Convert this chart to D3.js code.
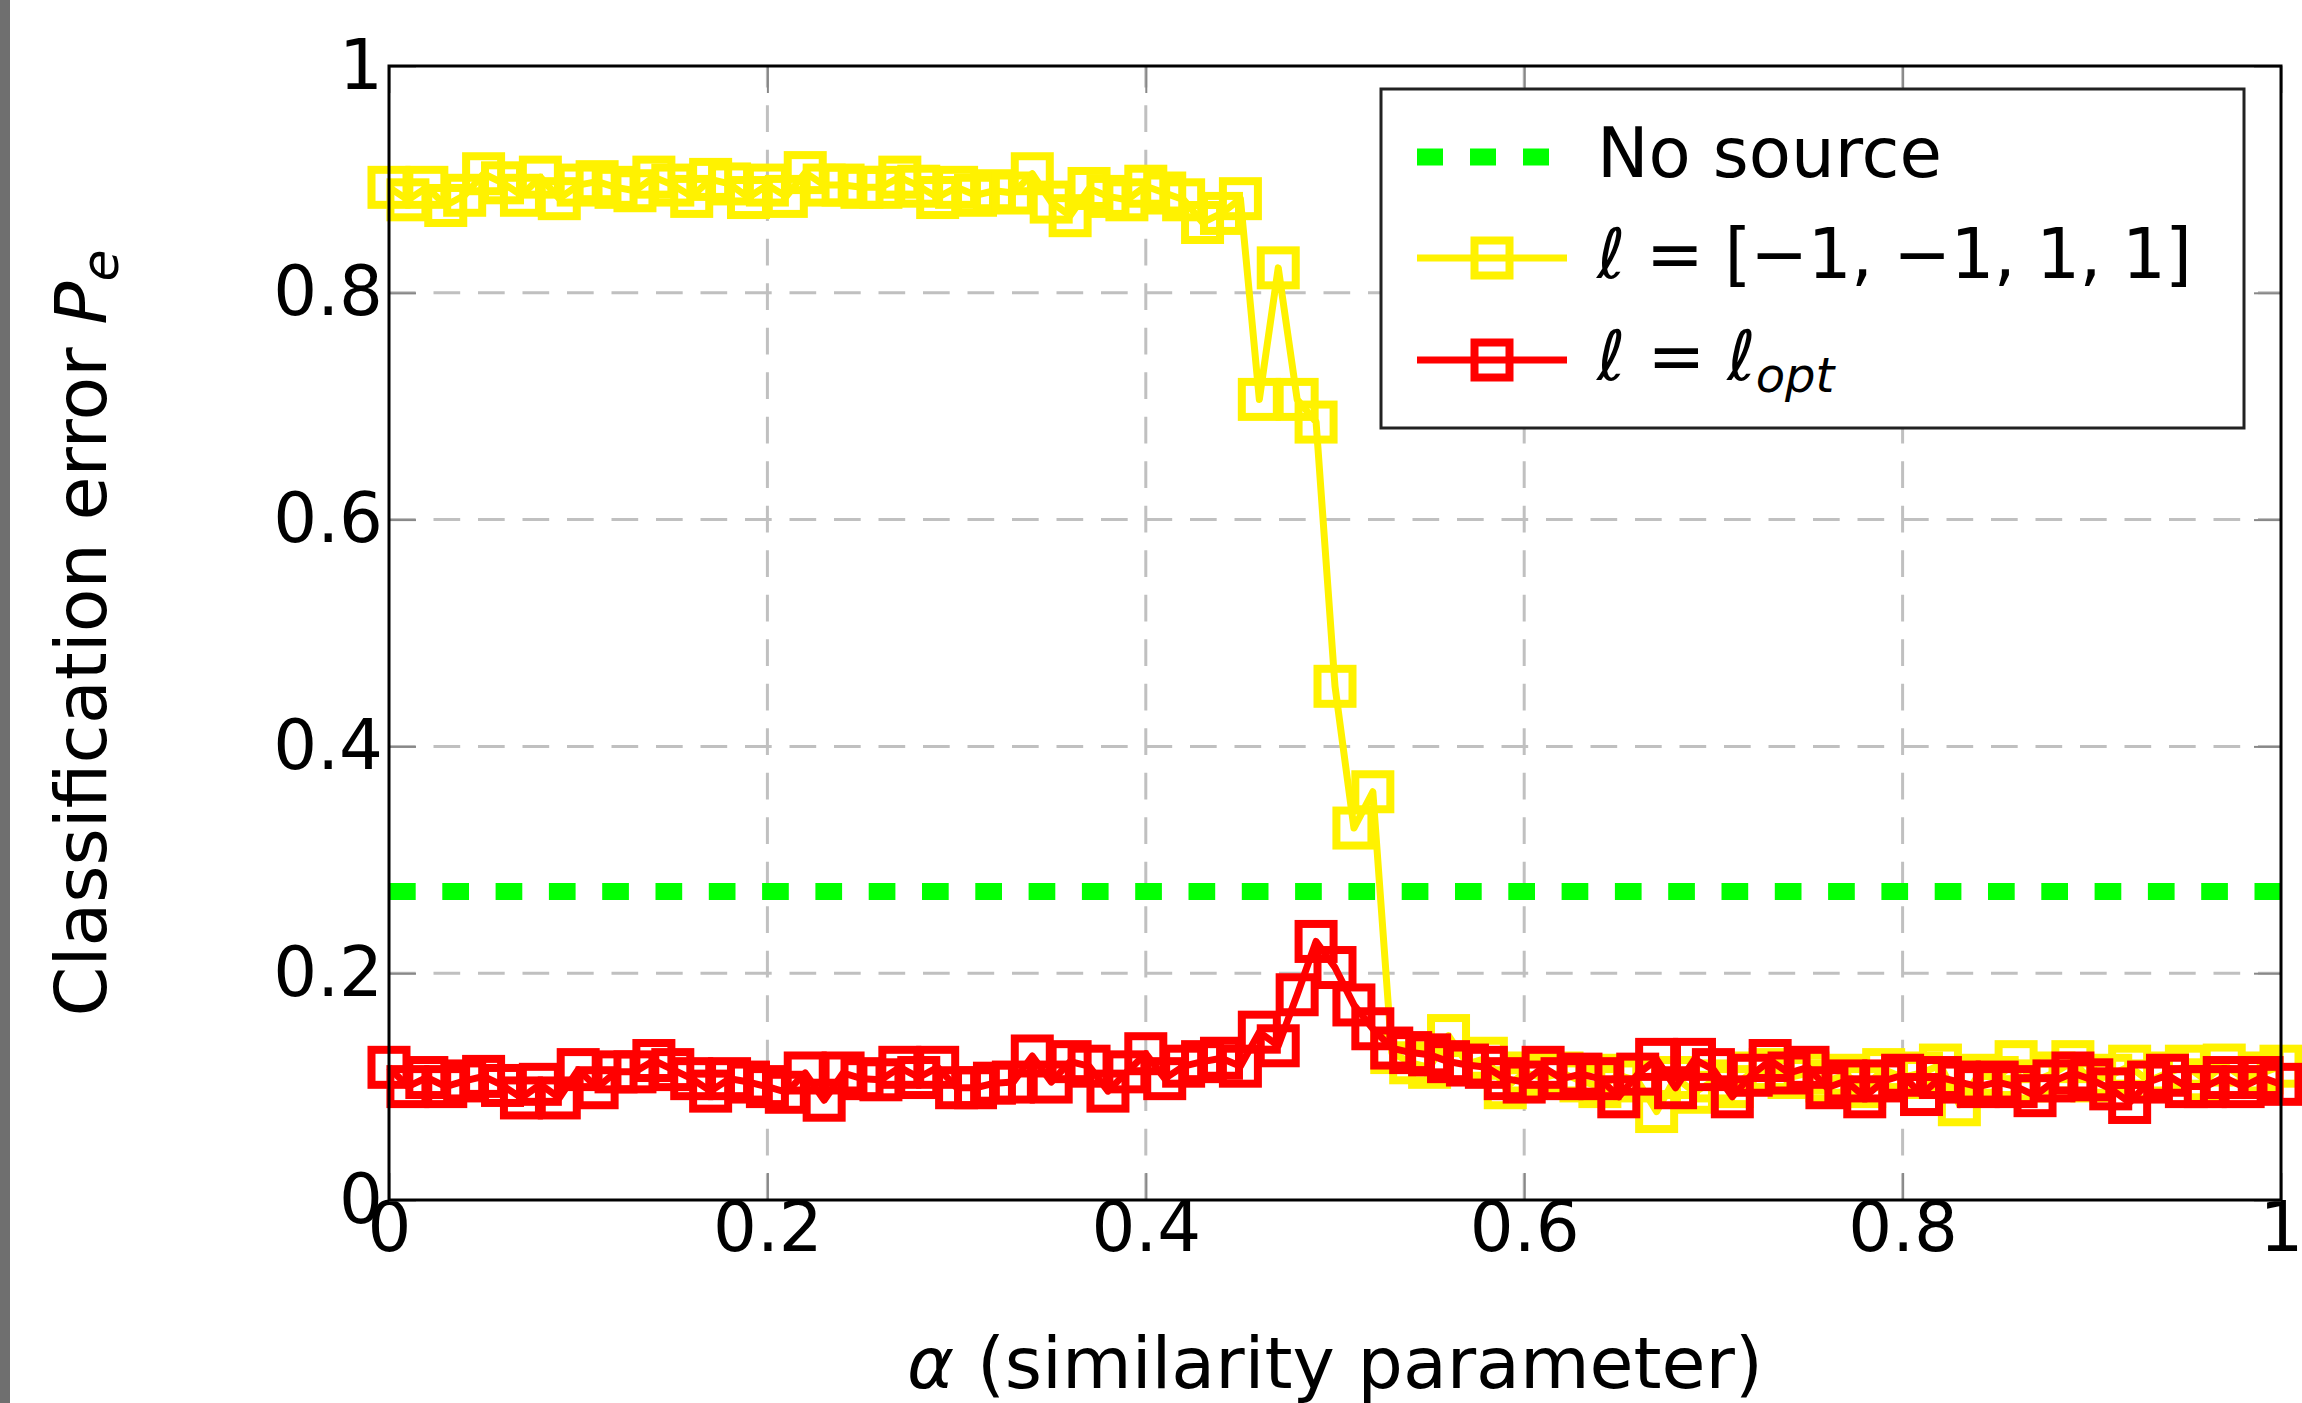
<!DOCTYPE html>
<html>
<head>
<meta charset="utf-8">
<script src="https://cdn.jsdelivr.net/npm/d3@7"></script>
<style>
  body { margin: 0; background: #fff; }
  svg { display: block; font-family: "DejaVu Sans", sans-serif; }
</style>
</head>
<body>
<div id="chart"></div>
<script>
// alpha grid (similarity parameter)
let alpha = [
  0.00, 0.01, 0.02, 0.03, 0.04, 0.05, 0.06, 0.07, 0.08, 0.09,
  0.10, 0.11, 0.12, 0.13, 0.14, 0.15, 0.16, 0.17, 0.18, 0.19,
  0.20, 0.21, 0.22, 0.23, 0.24, 0.25, 0.26, 0.27, 0.28, 0.29,
  0.30, 0.31, 0.32, 0.33, 0.34, 0.35, 0.36, 0.37, 0.38, 0.39,
  0.40, 0.41, 0.42, 0.43, 0.44, 0.45, 0.46, 0.47, 0.48, 0.49,
  0.50, 0.51, 0.52, 0.53, 0.54, 0.55, 0.56, 0.57, 0.58, 0.59,
  0.60, 0.61, 0.62, 0.63, 0.64, 0.65, 0.66, 0.67, 0.68, 0.69,
  0.70, 0.71, 0.72, 0.73, 0.74, 0.75, 0.76, 0.77, 0.78, 0.79,
  0.80, 0.81, 0.82, 0.83, 0.84, 0.85, 0.86, 0.87, 0.88, 0.89,
  0.90, 0.91, 0.92, 0.93, 0.94, 0.95, 0.96, 0.97, 0.98, 0.99,
  1.00
];

// l = [-1,-1,1,1]
let fixedErr = [
  0.893, 0.882, 0.893, 0.877, 0.886, 0.905, 0.897, 0.886, 0.902, 0.883,
  0.895, 0.898, 0.893, 0.890, 0.902, 0.895, 0.885, 0.900, 0.896, 0.884,
  0.895, 0.885, 0.906, 0.895, 0.895, 0.893, 0.893, 0.902, 0.894, 0.884,
  0.893, 0.886, 0.890, 0.888, 0.905, 0.880, 0.868, 0.892, 0.885, 0.882,
  0.894, 0.888, 0.882, 0.862, 0.870, 0.883, 0.706, 0.822, 0.706, 0.686,
  0.453, 0.328, 0.360, 0.130, 0.121, 0.117, 0.145, 0.120, 0.125, 0.099,
  0.112, 0.108, 0.112, 0.105, 0.100, 0.110, 0.105, 0.078, 0.108, 0.095,
  0.105, 0.100, 0.112, 0.115, 0.108, 0.112, 0.105, 0.110, 0.100, 0.115,
  0.108, 0.112, 0.119, 0.084, 0.110, 0.108, 0.122, 0.105, 0.112, 0.122,
  0.105, 0.110, 0.118, 0.105, 0.112, 0.118, 0.106, 0.119, 0.108, 0.112,
  0.118
];

// l = l_opt
let optErr = [
  0.117, 0.100, 0.108, 0.100, 0.105, 0.109, 0.101, 0.090, 0.102, 0.090,
  0.115, 0.099, 0.113, 0.113, 0.123, 0.115, 0.107, 0.096, 0.107, 0.104,
  0.100, 0.095, 0.112, 0.088, 0.112, 0.107, 0.106, 0.117, 0.108, 0.117,
  0.099, 0.099, 0.103, 0.104, 0.127, 0.104, 0.122, 0.118, 0.096, 0.113,
  0.129, 0.107, 0.118, 0.122, 0.125, 0.118, 0.148, 0.136, 0.181, 0.228,
  0.205, 0.172, 0.151, 0.134, 0.130, 0.128, 0.122, 0.119, 0.117, 0.107,
  0.104, 0.117, 0.107, 0.111, 0.107, 0.091, 0.111, 0.124, 0.099, 0.124,
  0.115, 0.091, 0.110, 0.123, 0.112, 0.117, 0.099, 0.105, 0.091, 0.105,
  0.110, 0.093, 0.108, 0.104, 0.100, 0.104, 0.100, 0.092, 0.105, 0.112,
  0.106, 0.098, 0.086, 0.104, 0.110, 0.100, 0.100, 0.108, 0.100, 0.108,
  0.102
];

// no source baseline
let noSourceX = [0, 1];
let noSourceErr = [0.272, 0.272];

let tickValues = [0, 0.2, 0.4, 0.6, 0.8, 1];
let tickLabels = ["0", "0.2", "0.4", "0.6", "0.8", "1"];

let width = 2302, height = 1403;
let margin = {top: 66, right: 21, bottom: 203, left: 389};
let x0 = margin.left, x1 = width - margin.right,
    y0 = height - margin.bottom, y1 = margin.top;

let svg = d3.select("#chart")
    .append("svg")
    .attr("width", width)
    .attr("height", height);

svg.append("rect")
    .attr("x", 0).attr("y", 0)
    .attr("width", width).attr("height", height)
    .style("fill", "#fff");

// grey strip on the left edge
svg.append("rect")
    .attr("x", 0).attr("y", 0)
    .attr("width", 10).attr("height", height)
    .style("fill", "#6f6f6f");

let x = d3.scaleLinear().domain([0, 1]).range([x0, x1]);
let y = d3.scaleLinear().domain([0, 1]).range([y0, y1]);

let fmt = function (d) {
    return tickLabels[tickValues.indexOf(d)];
};

// grid
let grid = svg.append("g");
grid.selectAll(".gx")
    .data(tickValues.slice(1, -1))
    .enter()
    .append("line")
    .attr("x1", d => x(d)).attr("x2", d => x(d))
    .attr("y1", y0).attr("y2", y1)
    .style("stroke", "#c0c0c0")
    .style("stroke-width", 3)
    .style("stroke-dasharray", "26.7,17.8");
grid.selectAll(".gy")
    .data(tickValues.slice(1, -1))
    .enter()
    .append("line")
    .attr("x1", x0).attr("x2", x1)
    .attr("y1", d => y(d)).attr("y2", d => y(d))
    .style("stroke", "#c0c0c0")
    .style("stroke-width", 3)
    .style("stroke-dasharray", "26.7,17.8");

// axes with inward ticks
function styleAxis(g, showText) {
    g.select(".domain").remove();
    g.selectAll(".tick line").style("stroke", "#888").style("stroke-width", 2);
    g.selectAll(".tick text")
        .style("font-family", "DejaVu Sans")
        .style("font-size", "69px")
        .style("fill", "#000");
    if (!showText) g.selectAll(".tick text").remove();
}

svg.append("g")
    .attr("transform", "translate(0," + y0 + ")")
    .call(d3.axisBottom(x).tickValues(tickValues).tickFormat(fmt)
        .tickSizeInner(-27).tickSizeOuter(0).tickPadding(2))
    .call(g => styleAxis(g, true));

svg.append("g")
    .attr("transform", "translate(" + x0 + ",0)")
    .call(d3.axisLeft(y).tickValues(tickValues).tickFormat(fmt)
        .tickSizeInner(-27).tickSizeOuter(0).tickPadding(6))
    .call(g => styleAxis(g, true));

svg.append("g")
    .attr("transform", "translate(0," + y1 + ")")
    .call(d3.axisTop(x).tickValues(tickValues).tickSizeInner(-27).tickSizeOuter(0))
    .call(g => styleAxis(g, false));

svg.append("g")
    .attr("transform", "translate(" + x1 + ",0)")
    .call(d3.axisRight(y).tickValues(tickValues).tickSizeInner(-27).tickSizeOuter(0))
    .call(g => styleAxis(g, false));

// no source line
let noSource = noSourceX.map((d, i) => [d, noSourceErr[i]]);
svg.append("path")
    .datum(noSource)
    .attr("d", d3.line().x(d => x(d[0])).y(d => y(d[1])))
    .style("fill", "none")
    .style("stroke", "#00ff00")
    .style("stroke-width", 17)
    .style("stroke-dasharray", "26.7,26.6");

// series with square markers
function drawSeries(values, color) {
    let pts = alpha.map((a, i) => [a, values[i]]);
    svg.append("path")
        .datum(pts)
        .attr("d", d3.line().x(d => x(d[0])).y(d => y(d[1])))
        .style("fill", "none")
        .style("stroke", color)
        .style("stroke-width", 7)
        .style("stroke-linejoin", "round");
    svg.append("g")
        .selectAll("rect")
        .data(pts)
        .enter()
        .append("rect")
        .attr("x", d => x(d[0]) - 17.5)
        .attr("y", d => y(d[1]) - 17.5)
        .attr("width", 35)
        .attr("height", 35)
        .style("fill", "none")
        .style("stroke", color)
        .style("stroke-width", 8);
}

drawSeries(fixedErr, "#fff200");
drawSeries(optErr, "#ff0000");

// frame
svg.append("rect")
    .attr("x", x0).attr("y", y1)
    .attr("width", x1 - x0).attr("height", y0 - y1)
    .style("fill", "none")
    .style("stroke", "#000")
    .style("stroke-width", 3);

// axis labels
svg.append("text")
    .attr("x", (x0 + x1) / 2)
    .attr("y", 1388)
    .attr("text-anchor", "middle")
    .style("font-size", "71.5px")
    .html('<tspan font-style="italic">α</tspan> (similarity parameter)');

svg.append("text")
    .attr("transform", "translate(106," + (y0 + y1) / 2 + ") rotate(-90)")
    .attr("text-anchor", "middle")
    .style("font-size", "71.5px")
    .html('Classification error <tspan font-style="italic">P</tspan><tspan font-style="italic" font-size="52px" dy="12">e</tspan>');

// legend
let lg = svg.append("g");
lg.append("rect")
    .attr("x", 1381).attr("y", 89)
    .attr("width", 863).attr("height", 339)
    .style("fill", "#fff")
    .style("stroke", "#222")
    .style("stroke-width", 3);

let legendRows = [157, 258, 360];

lg.append("line")
    .attr("x1", 1417).attr("x2", 1567)
    .attr("y1", legendRows[0]).attr("y2", legendRows[0])
    .style("stroke", "#00ff00")
    .style("stroke-width", 17)
    .style("stroke-dasharray", "26,27");

[["#fff200", legendRows[1]], ["#ff0000", legendRows[2]]].forEach(function (r) {
    lg.append("line")
        .attr("x1", 1417).attr("x2", 1567)
        .attr("y1", r[1]).attr("y2", r[1])
        .style("stroke", r[0])
        .style("stroke-width", 7);
    lg.append("rect")
        .attr("x", 1492 - 17.5).attr("y", r[1] - 17.5)
        .attr("width", 35).attr("height", 35)
        .style("fill", "none")
        .style("stroke", r[0])
        .style("stroke-width", 8);
});

lg.append("text")
    .attr("x", 1597).attr("y", legendRows[0] + 20)
    .style("font-size", "69px")
    .text("No source");

lg.append("text")
    .attr("x", 1597).attr("y", legendRows[1] + 20)
    .attr("textLength", 595)
    .attr("lengthAdjust", "spacing")
    .style("font-size", "69px")
    .html('<tspan font-style="italic">ℓ</tspan> = [−1, −1, 1, 1]');

lg.append("text")
    .attr("x", 1597).attr("y", legendRows[2] + 20)
    .style("font-size", "69px")
    .html('<tspan font-style="italic">ℓ</tspan> = <tspan font-style="italic">ℓ</tspan><tspan font-style="italic" font-size="48px" dy="12">opt</tspan>');
</script>
</body>
</html>
